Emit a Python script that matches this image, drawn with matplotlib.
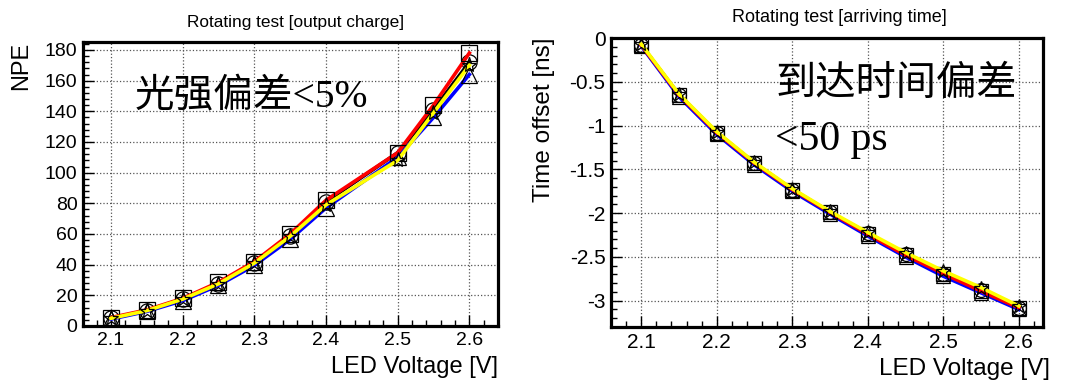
import matplotlib.pyplot as plt
from matplotlib.ticker import MultipleLocator

# Left panel: output charge (NPE) vs LED voltage
volt_q = [2.1, 2.15, 2.2, 2.25, 2.3, 2.35, 2.4, 2.5, 2.55, 2.6]
npe_black = [5, 10, 17.5, 27.5, 41, 59, 81, 113, 141, 172]
npe_red = [5.5, 10.5, 18, 28.5, 42, 60, 82, 113, 144, 178]
npe_blue = [4.5, 9.5, 16.5, 26.5, 39.5, 56.5, 77, 110, 136, 164]
npe_yellow = [5, 10, 17.5, 27.5, 41, 58.5, 79, 108, 139, 170]

# Right panel: arriving time offset vs LED voltage
volt_t = [2.1, 2.15, 2.2, 2.25, 2.3, 2.35, 2.4, 2.45, 2.5, 2.55, 2.6]
t_black = [-0.08, -0.65, -1.08, -1.43, -1.73, -1.99, -2.23, -2.47, -2.69, -2.88, -3.08]
t_red = [-0.08, -0.65, -1.08, -1.43, -1.73, -1.99, -2.24, -2.48, -2.69, -2.89, -3.08]
t_blue = [-0.09, -0.67, -1.10, -1.45, -1.75, -2.01, -2.26, -2.50, -2.72, -2.91, -3.10]
t_yellow = [-0.07, -0.64, -1.07, -1.42, -1.72, -1.98, -2.22, -2.45, -2.66, -2.85, -3.06]

plt.rcParams['font.family'] = ['Liberation Sans', 'DejaVu Sans']
cjk = ['Liberation Serif', 'Noto Sans CJK SC']

fig = plt.figure(figsize=(10.66, 3.84), dpi=100)
W, H = 1066, 384

def axes_px(x0, y0, x1, y1):
    return fig.add_axes([x0 / W, 1 - y1 / H, (x1 - x0) / W, (y1 - y0) / H])

def style(ax, lsize):
    for s in ax.spines.values():
        s.set_linewidth(2.3)
    ax.tick_params(which='both', direction='in', top=False, right=False,
                   labelsize=lsize, width=1)
    ax.tick_params(which='major', length=8, pad=4)
    ax.tick_params(which='minor', length=4)
    ax.xaxis.set_major_locator(MultipleLocator(0.1))
    ax.xaxis.set_minor_locator(MultipleLocator(0.02))
    ax.grid(True, which='major', linestyle=':', color='#555555', linewidth=0.9)
    ax.set_axisbelow(True)

series_style = [
    ('black', 'o'),
    ('blue', '^'),
    ('red', 's'),
    ('yellow', '*'),
]

# ---- left: output charge
ax1 = axes_px(83, 42, 498, 326)
style(ax1, 14)
for (col, mk), ys in zip(series_style, [npe_black, npe_blue, npe_red, npe_yellow]):
    ax1.plot(volt_q, ys, color=col, lw=2.6, solid_joinstyle='round')
    ax1.plot(volt_q, ys, ls='none', marker=mk, ms=11, mfc='none',
             mec='black', mew=0.9)
ax1.set_xlim(2.061, 2.640)
ax1.set_ylim(0, 185.2)
ax1.yaxis.set_major_locator(MultipleLocator(20))
ax1.yaxis.set_minor_locator(MultipleLocator(4))
ax1.set_ylabel('NPE', fontsize=17, loc='top')
ax1.yaxis.set_label_coords(-0.123, 1.0)
ax1.set_xlabel('LED Voltage [V]', fontsize=17, loc='right')
ax1.xaxis.set_label_coords(1.0, -0.105)
fig.text(296 / W, 1 - 22 / H, 'Rotating test [output charge]', fontsize=12.4,
         ha='center', va='center')
fig.text(135 / W, 1 - 97 / H, '光强偏差<5%', family=cjk, fontsize=28.5,
         ha='left', va='center', fontweight='light')

# ---- right: arriving time
ax2 = axes_px(611, 38, 1043, 327)
style(ax2, 15)
for (col, mk), ys in zip(series_style, [t_black, t_blue, t_red, t_yellow]):
    ax2.plot(volt_t, ys, color=col, lw=2.6, solid_joinstyle='round')
    ax2.plot(volt_t, ys, ls='none', marker=mk, ms=10, mfc='none',
             mec='black', mew=0.9)
ax2.set_xlim(2.060, 2.632)
ax2.set_ylim(-3.30, 0)
ax2.yaxis.set_major_locator(MultipleLocator(0.5))
ax2.yaxis.set_minor_locator(MultipleLocator(0.1))
ax2.set_yticks([0, -0.5, -1, -1.5, -2, -2.5, -3])
ax2.set_yticklabels(['0', '-0.5', '-1', '-1.5', '-2', '-2.5', '-3'])
ax2.set_ylabel('Time offset [ns]', fontsize=17.5, loc='top')
ax2.yaxis.set_label_coords(-0.130, 1.0)
ax2.set_xlabel('LED Voltage [V]', fontsize=17.5, loc='right')
ax2.xaxis.set_label_coords(1.016, -0.108)
fig.text(839 / W, 1 - 18 / H, 'Rotating test [arriving time]', fontsize=13,
         ha='center', va='center')
fig.text(775 / W, 1 - 85 / H, '到达时间偏差', family=cjk, fontsize=29,
         ha='left', va='center', fontweight='light')
fig.text(775 / W, 1 - 150 / H, '<50 ps', family=cjk, fontsize=30,
         ha='left', va='baseline')

fig.savefig('out.png', dpi=100)
